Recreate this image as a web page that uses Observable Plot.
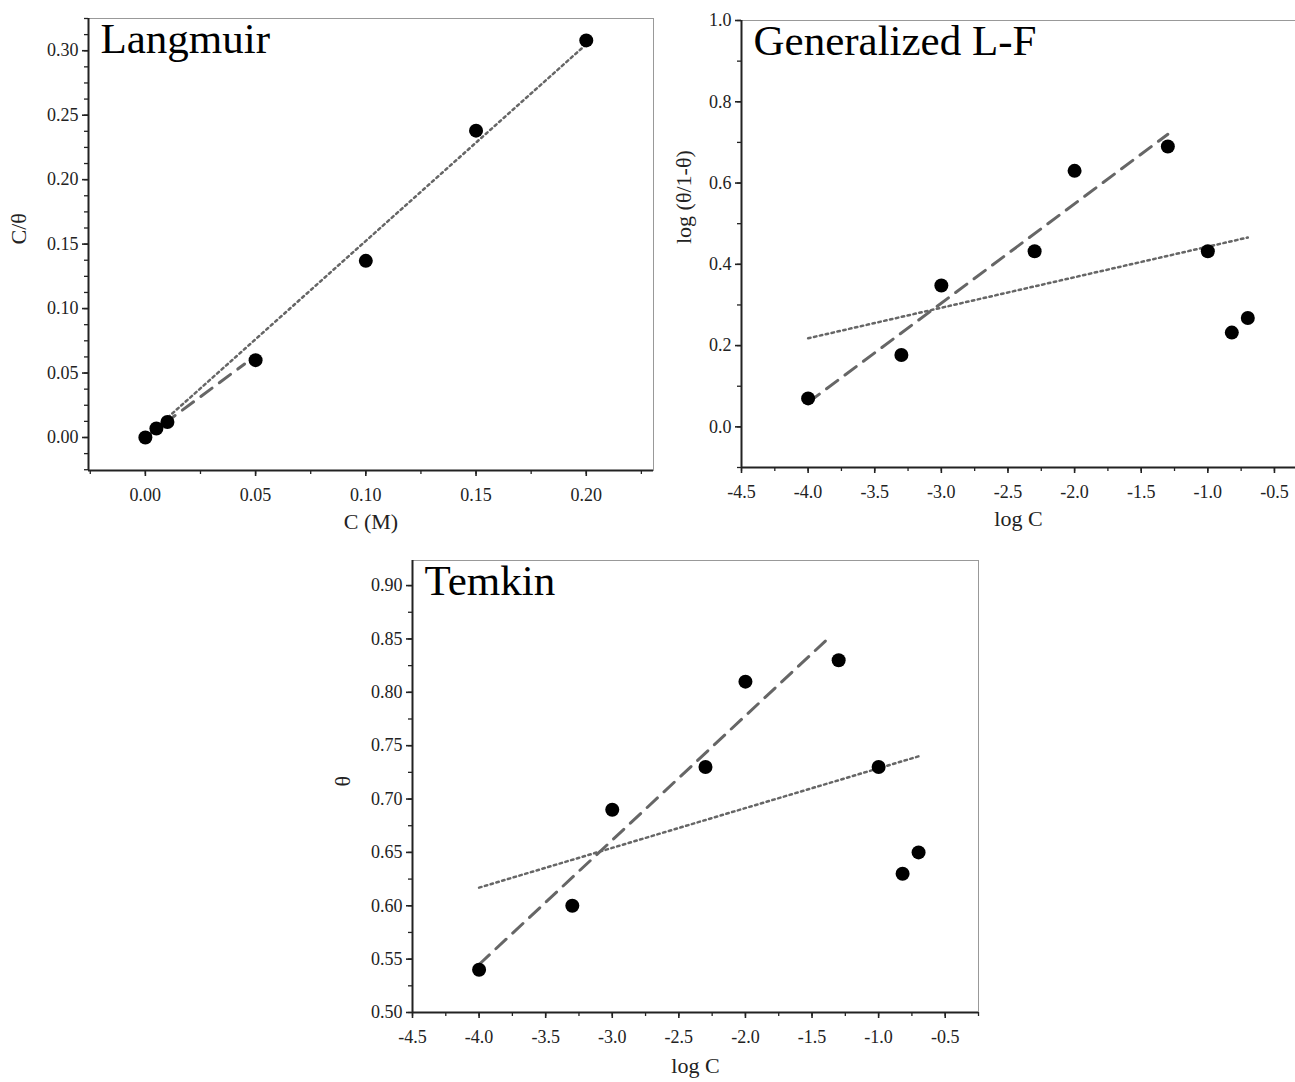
<!DOCTYPE html>
<html><head><meta charset="utf-8">
<script src="https://cdn.jsdelivr.net/npm/d3@7"></script>
<script src="https://cdn.jsdelivr.net/npm/@observablehq/plot@0.6"></script>
<style>
body{margin:0;background:#fff;width:1295px;height:1082px;position:relative;overflow:hidden;font-family:"Liberation Serif",serif}
.p{position:absolute}
.p g[aria-label="x-axis tick label"] text,.p g[aria-label="y-axis tick label"] text{font-size:18px;fill:#222}
.p g[aria-label="x-axis tick"] path,.p g[aria-label="y-axis tick"] path{stroke:#222}
</style></head><body>
<div id="p1" class="p" style="left:0;top:0"></div>
<div id="p2" class="p" style="left:660px;top:0"></div>
<div id="p3" class="p" style="left:330px;top:545px"></div>
<script>
// Langmuir
const lC = [0, 0.005, 0.01, 0.05, 0.1, 0.15, 0.2];
const lY = [0, 0.007, 0.012, 0.06, 0.137, 0.238, 0.308];
const lDot = [[0, 0], [0.2, 0.305]];
const lDash = [[0, 0.0], [0.045, 0.057]];
// Generalized L-F
const logC = [-4, -3.3, -3, -2.3, -2, -1.3, -1, -0.82, -0.7];
const gY = [0.07, 0.177, 0.348, 0.432, 0.63, 0.69, 0.432, 0.232, 0.268];
const gDash = [[-4, 0.06], [-1.3, 0.72]];
const gDot = [[-4, 0.218], [-0.7, 0.466]];
// Temkin
const tY = [0.54, 0.60, 0.69, 0.73, 0.81, 0.83, 0.73, 0.63, 0.65];
const tDash = [[-4, 0.545], [-1.4, 0.848]];
const tDot = [[-4, 0.617], [-0.7, 0.74]];

function panel({x, y, dash, dot, xd, yd, xt, yt, xmin, ymin, xfmt, yfmt, W, H, m, title, xl, yl, xly, ylx}) {
  const pts = x.map((v, i) => ({x: v, y: y[i]}));
  return Plot.plot({
    width: W, height: H, marginLeft: m[0], marginTop: m[1], marginRight: m[2], marginBottom: m[3],
    style: {fontFamily: "Liberation Serif", color: "#222", overflow: "visible"},
    x: {domain: xd}, y: {domain: yd},
    marks: [
      Plot.frame({stroke: "#999", strokeWidth: 1}),
      Plot.axisX({ticks: xt, tickFormat: xfmt, tickSize: 6, tickPadding: 12, label: null, strokeWidth: 1.6}),
      Plot.axisX({ticks: xmin, tickFormat: () => "", tickSize: 4, label: null, strokeWidth: 1.3}),
      Plot.axisY({ticks: yt, tickFormat: yfmt, tickSize: 6, tickPadding: 4, label: null, strokeWidth: 1.6}),
      Plot.axisY({ticks: ymin, tickFormat: () => "", tickSize: 4, label: null, strokeWidth: 1.3}),
      Plot.ruleX([xd[0]], {stroke: "#222", strokeWidth: 2}),
      Plot.ruleY([yd[0]], {stroke: "#222", strokeWidth: 2}),
      Plot.line(dash, {x: d => d[0], y: d => d[1], stroke: "#666", strokeWidth: 3, strokeDasharray: "14,9"}),
      Plot.line(dot, {x: d => d[0], y: d => d[1], stroke: "#666", strokeWidth: 2.5, strokeDasharray: "2.5,3.5"}),
      Plot.dot(pts, {x: "x", y: "y", r: 7, fill: "#000"}),
      Plot.text([title], {frameAnchor: "top-left", dx: 12, dy: 4, fontSize: 43, fill: "#000", textAnchor: "start", lineAnchor: "top"}),
      Plot.text([xl], {frameAnchor: "bottom", dy: xly, fontSize: 22, fill: "#222"}),
      Plot.text([yl], {frameAnchor: "left", dx: ylx, rotate: -90, fontSize: 22, fill: "#222"})
    ]
  });
}
const r = (a, b, s) => d3.range(Math.round(a / s), Math.round(b / s) + 1).map(i => +(i * s).toFixed(4));
const f = p => v => d3.format(p)(v).replace("−", "-");

document.getElementById("p1").append(panel({
  x: lC, y: lY, dash: lDash, dot: lDot, xd: [-0.0258, 0.2305], yd: [-0.0256, 0.325],
  xt: r(0, 0.2, 0.05), yt: r(0, 0.3, 0.05), xmin: r(-0.025, 0.225, 0.025), ymin: r(-0.025, 0.325, 0.0125),
  xfmt: f(".2f"), yfmt: f(".2f"),
  W: 660, H: 545, m: [88, 18, 7, 75], title: "Langmuir", xl: "C (M)", yl: "C/θ", xly: 58, ylx: -70
}));
document.getElementById("p2").append(panel({
  x: logC, y: gY, dash: gDash, dot: gDot, xd: [-4.5, -0.342], yd: [-0.1, 1.0],
  xt: r(-4.5, -0.5, 0.5), yt: r(0, 1.0, 0.2), xmin: r(-4.5, -0.5, 0.25), ymin: r(-0.1, 1.0, 0.1),
  xfmt: f(".1f"), yfmt: f(".1f"),
  W: 635, H: 545, m: [81, 20, 0, 78], title: "Generalized L-F", xl: "log C", yl: "log (θ/1-θ)", xly: 58, ylx: -58
}));
document.getElementById("p3").append(panel({
  x: logC, y: tY, dash: tDash, dot: tDot, xd: [-4.5, -0.25], yd: [0.5, 0.9235],
  xt: r(-4.5, -0.5, 0.5), yt: r(0.5, 0.9, 0.05), xmin: r(-4.5, -0.25, 0.25), ymin: r(0.5, 0.9, 0.025),
  xfmt: f(".1f"), yfmt: f(".2f"),
  W: 680, H: 537, m: [82, 15, 32, 70], title: "Temkin", xl: "log C", yl: "θ", xly: 60, ylx: -70
}));
</script></body></html>
